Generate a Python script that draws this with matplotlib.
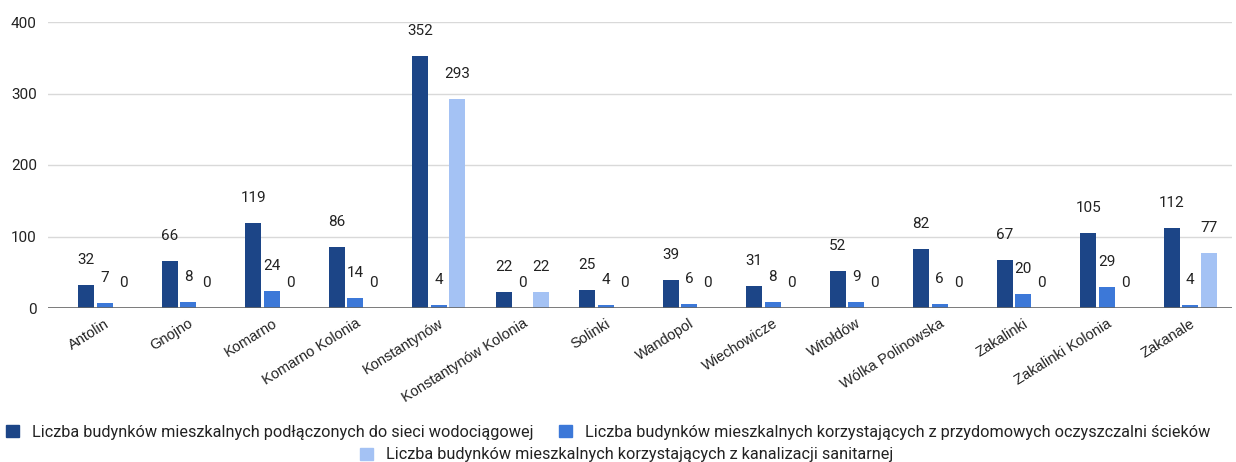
import matplotlib.pyplot as plt
import numpy as np
from matplotlib.patches import Patch

plt.rcParams["font.family"] = ["Roboto", "DejaVu Sans"]

villages = [
    "Antolin", "Gnojno", "Komarno", "Komarno Kolonia", "Konstantynów",
    "Konstantynów Kolonia", "Solinki", "Wandopol", "Wiechowicze", "Witołdów",
    "Wólka Polinowska", "Zakalinki", "Zakalinki Kolonia", "Zakanale",
]
water_supply = [32, 66, 119, 86, 352, 22, 25, 39, 31, 52, 82, 67, 105, 112]
home_treatment = [7, 8, 24, 14, 4, 0, 4, 6, 8, 9, 6, 20, 29, 4]
sewerage = [0, 0, 0, 0, 293, 22, 0, 0, 0, 0, 0, 0, 0, 77]

series_names = [
    "Liczba budynków mieszkalnych podłączonych do sieci wodociągowej",
    "Liczba budynków mieszkalnych korzystających z przydomowych oczyszczalni ścieków",
    "Liczba budynków mieszkalnych korzystających z kanalizacji sanitarnej",
]
colors = ["#1c4587", "#3c78d8", "#a4c2f4"]

fig = plt.figure(figsize=(12.36, 4.62), dpi=100)
ax = fig.add_axes([48 / 1236, 1 - 308 / 462, (1232 - 48) / 1236, (308 - 22) / 462])

x = np.arange(len(villages))
step = 0.222
width = 0.19
all_series = [water_supply, home_treatment, sewerage]
for i, (vals, color) in enumerate(zip(all_series, colors)):
    pos = x + (i - 1) * step
    ax.bar(pos, vals, width=width, color=color, zorder=3)
    for px, v in zip(pos, vals):
        ax.annotate(str(v), (px, v), xytext=(0, 18), textcoords="offset points",
                    ha="center", va="center", fontsize=11, color="#222222")

ax.set_xlim(-0.68, 13.5)
ax.set_ylim(0, 400)
ax.set_yticks([0, 100, 200, 300, 400])
ax.yaxis.grid(True, color="#d9d9d9", linewidth=1, zorder=0)
ax.axhline(0, color="#666666", linewidth=1.2, zorder=4)
for s in ax.spines.values():
    s.set_visible(False)
ax.tick_params(axis="y", length=0, labelsize=11, labelcolor="#222222", pad=8)
ax.tick_params(axis="x", length=0, pad=6)
ax.set_xticks(x)
ax.set_xticklabels(villages, rotation=32, ha="right", rotation_mode="anchor",
                   fontsize=10.5, color="#222222", family=["Liberation Sans", "DejaVu Sans"])

handles = [Patch(facecolor=c, edgecolor=c) for c in colors]
leg_kw = dict(frameon=False, fontsize=11.7, handlelength=0.8, handleheight=0.8,
              handletextpad=0.8, columnspacing=1.6, labelcolor="#222222")
fig.legend(handles[:2], series_names[:2], loc="center", ncol=2,
           bbox_to_anchor=(0.492, 1 - 432 / 462), **leg_kw)
fig.legend(handles[2:], series_names[2:], loc="center",
           bbox_to_anchor=(0.507, 1 - 455 / 462), **leg_kw)

fig.savefig("out.png", dpi=100)
